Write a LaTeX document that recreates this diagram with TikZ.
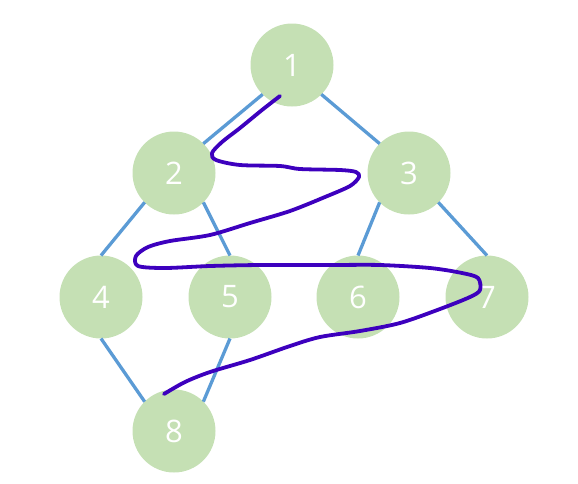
\documentclass[tikz,border=0pt]{standalone}
\usepackage{fontspec}
\setmainfont{Open Sans}
\definecolor{nodegreen}{HTML}{C5E0B4}
\definecolor{edgeblue}{HTML}{5B9BD5}
\definecolor{inkpurple}{HTML}{3D00BE}
\begin{document}
\begin{tikzpicture}[x=1pt,y=-1pt,
  vert/.style={circle,fill=nodegreen,minimum size=83pt,inner sep=0pt,outer sep=0pt,text=white,font=\fontsize{31}{34}\selectfont},
  edge/.style={draw=edgeblue,line width=3.3pt},
  ink/.style={draw=inkpurple,line width=3.8pt,line cap=round,line join=round}]
\useasboundingbox (0,0) rectangle (578,483);
\node[vert] (n1) at (292,65) {1};
\node[vert] (n2) at (174,173) {2};
\node[vert] (n3) at (409,173) {3};
\node[vert] (n4) at (101,297) {4};
\node[vert] (n5) at (230,297) {5};
\node[vert] (n6) at (358,297) {6};
\node[vert] (n7) at (487,297) {7};
\node[vert] (n8) at (174,431) {8};
\draw[edge] (n1.south west) -- (n2.north east);
\draw[edge] (n1.south east) -- (n3.north west);
\draw[edge] (n2.south west) -- (n4.north);
\draw[edge] (n2.south east) -- (n5.north);
\draw[edge] (n3.south west) -- (n6.north);
\draw[edge] (n3.south east) -- (n7.north);
\draw[edge] (n4.south) -- (n8.north west);
\draw[edge] (n5.south) -- (n8.north east);
\draw[ink] plot[smooth,tension=0.5] coordinates {
 (280,96) (262,110) (240,128) (222,142) (212,153) (216,160) (240,165) (280,166) (300,169) (340,170) (356,172) (359,177) (350,186) (325,197) (290,211) (250,223) (210,235) (170,241) (148,247) (136,256) (138,266) (165,268) (210,266) (260,265) (330,265) (380,265) (430,268) (462,273) (478,278) (480,290) (470,297) (440,309) (400,323) (360,331) (320,337) (290,346) (250,360) (210,372) (185,382) (164,394)};
\end{tikzpicture}
\end{document}
